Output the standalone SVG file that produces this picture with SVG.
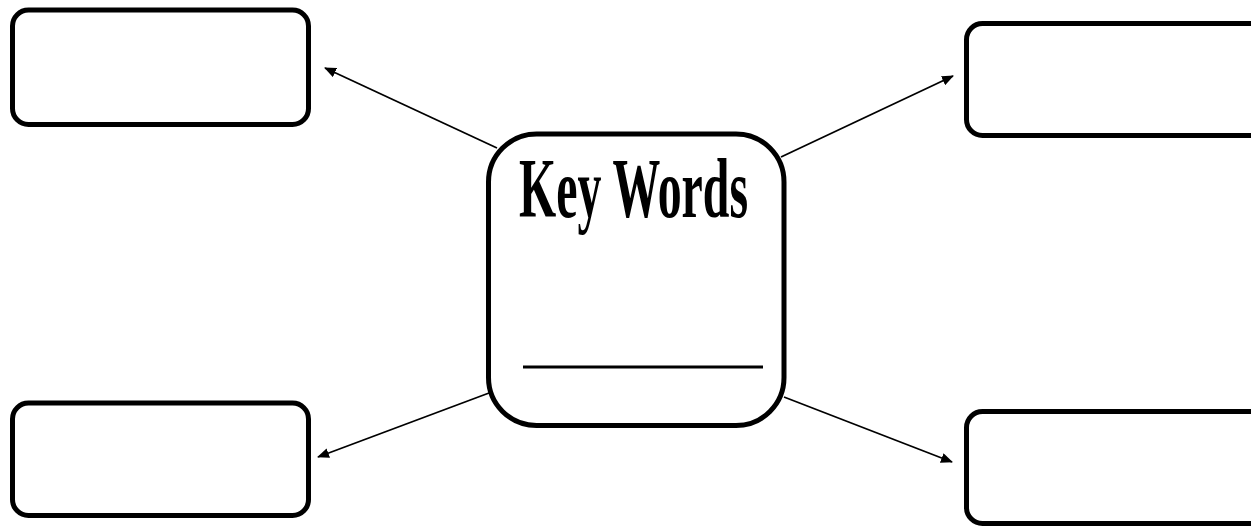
<svg xmlns="http://www.w3.org/2000/svg" width="1251" height="527" viewBox="0 0 1251 527">
<style>
.box{fill:#fff;stroke:#000;stroke-width:5}
.conn{stroke:#000;stroke-width:1.8;fill:none;marker-end:url(#ah)}
.title{font-family:"Liberation Serif",serif;font-weight:bold;font-size:84px;fill:#000}
</style>
<defs>
<marker id="ah" markerWidth="12" markerHeight="10" refX="11" refY="5" orient="auto" markerUnits="userSpaceOnUse">
<path d="M0,0 L12,5 L0,10 Z" fill="#000"/>
</marker>
</defs>
<rect width="1251" height="527" fill="#fff"/>
<g id="connectors">
<line class="conn" x1="497" y1="148" x2="325" y2="68"/>
<line class="conn" x1="781" y1="157" x2="953" y2="76"/>
<line class="conn" x1="489" y1="393" x2="318" y2="457"/>
<line class="conn" x1="784" y1="397" x2="952" y2="462"/>
</g>
<g id="box-top-left"><rect class="box" x="12.5" y="10" width="296" height="114.5" rx="16"/></g>
<g id="box-top-right"><rect class="box" x="966.5" y="23.5" width="300" height="112" rx="16"/></g>
<g id="box-bottom-left"><rect class="box" x="12.5" y="403" width="296" height="112.5" rx="16"/></g>
<g id="box-bottom-right"><rect class="box" x="966.5" y="411.5" width="300" height="112" rx="16"/></g>
<g id="center">
<rect class="box" x="488.5" y="134" width="295.5" height="291.5" rx="48"/>
<text class="title" x="519" y="217" textLength="229" lengthAdjust="spacingAndGlyphs">Key Words</text>
<line x1="523" y1="367" x2="763" y2="367" stroke="#000" stroke-width="3"/>
</g>
</svg>
